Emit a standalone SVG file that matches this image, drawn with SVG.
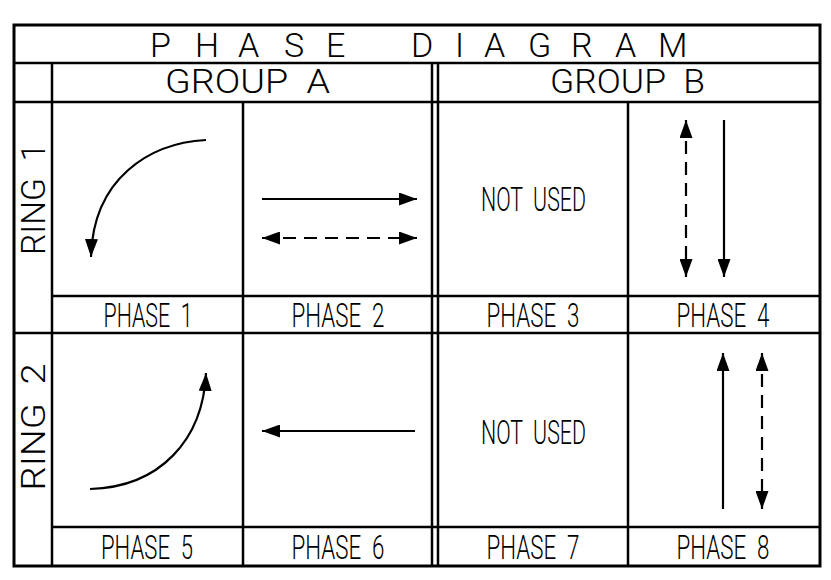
<svg xmlns="http://www.w3.org/2000/svg" width="831" height="580" viewBox="0 0 831 580">
<style>
.grid{stroke:#000;stroke-width:2.5;fill:none}
.t{font-family:Roboto,"Liberation Sans",Arial,sans-serif;font-weight:300;fill:#000}
.big{font-size:34px}
.lbl{font-size:33px;text-anchor:middle}
.arr{stroke:#000;stroke-width:2.2;fill:none}
.dash{stroke-dasharray:13 8}
</style>
<defs>
<marker id="ah" markerUnits="userSpaceOnUse" markerWidth="18" markerHeight="13" refX="18" refY="6.5" orient="auto-start-reverse">
<path d="M0,0 L18,6.5 L0,13 z" fill="#000"/>
</marker>
</defs>
<rect width="831" height="580" fill="#fff"/>
<g id="table">
<rect class="grid" x="14" y="25" width="806" height="541" style="stroke-width:3"/>
<path class="grid" d="M14,63H820M14,102H820M52,296H820M14,333H820M52,527H820M52,63V566M243,102V566M432,63V566M438,63V566M628,102V566"/>
</g>
<g id="title">
<text class="t big" y="57" x="150 175 195 220 238 262 284 307 326 350 411 436 455 470 484 508 528 552 571 596 615 638 658">P H A S E D I A G R A M</text>
</g>
<g id="group-a"><text class="t big" x="247.5" y="93" text-anchor="middle" textLength="165" lengthAdjust="spacingAndGlyphs" xml:space="preserve">GROUP  A</text></g>
<g id="group-b"><text class="t big" x="627.5" y="93" text-anchor="middle" textLength="155" lengthAdjust="spacingAndGlyphs" xml:space="preserve">GROUP  B</text></g>
<g id="ring-1"><text class="t big" transform="translate(45,199) rotate(-90)" text-anchor="middle" textLength="112" lengthAdjust="spacingAndGlyphs" xml:space="preserve">RING  1</text></g>
<g id="ring-2"><text class="t big" transform="translate(45,427) rotate(-90)" text-anchor="middle" textLength="127" lengthAdjust="spacingAndGlyphs" xml:space="preserve">RING  2</text></g>
<g id="phase-1"><text class="t lbl" x="148" y="327" textLength="89" lengthAdjust="spacingAndGlyphs" xml:space="preserve">PHASE  1</text></g>
<g id="phase-2"><text class="t lbl" x="338" y="327" textLength="93" lengthAdjust="spacingAndGlyphs" xml:space="preserve">PHASE  2</text></g>
<g id="phase-3"><text class="t lbl" x="533" y="327" textLength="93" lengthAdjust="spacingAndGlyphs" xml:space="preserve">PHASE  3</text></g>
<g id="phase-4"><text class="t lbl" x="723" y="327" textLength="93" lengthAdjust="spacingAndGlyphs" xml:space="preserve">PHASE  4</text></g>
<g id="phase-5"><text class="t lbl" x="147" y="559" textLength="92" lengthAdjust="spacingAndGlyphs" xml:space="preserve">PHASE  5</text></g>
<g id="phase-6"><text class="t lbl" x="338" y="559" textLength="93" lengthAdjust="spacingAndGlyphs" xml:space="preserve">PHASE  6</text></g>
<g id="phase-7"><text class="t lbl" x="533" y="559" textLength="93" lengthAdjust="spacingAndGlyphs" xml:space="preserve">PHASE  7</text></g>
<g id="phase-8"><text class="t lbl" x="723" y="559" textLength="93" lengthAdjust="spacingAndGlyphs" xml:space="preserve">PHASE  8</text></g>
<g id="not-used-3"><text class="t lbl" x="533.5" y="211" textLength="105" lengthAdjust="spacingAndGlyphs" xml:space="preserve">NOT  USED</text></g>
<g id="not-used-7"><text class="t lbl" x="533.5" y="444" textLength="105" lengthAdjust="spacingAndGlyphs" xml:space="preserve">NOT  USED</text></g>
<g id="connectors">
<path class="arr" d="M206,140 C150,143 93,178 91,257" marker-end="url(#ah)"/>
<path class="arr" d="M262,199 H417" marker-end="url(#ah)"/>
<path class="arr dash" d="M262,238 H417" marker-start="url(#ah)" marker-end="url(#ah)"/>
<path class="arr dash" d="M686,120 V277" marker-start="url(#ah)" marker-end="url(#ah)"/>
<path class="arr" d="M724,120 V277" marker-end="url(#ah)"/>
<path class="arr" d="M90,489 C160,487 203,440 206,373" marker-end="url(#ah)"/>
<path class="arr" d="M415,431 H262" marker-end="url(#ah)"/>
<path class="arr" d="M723,509 V353" marker-end="url(#ah)"/>
<path class="arr dash" d="M762,353 V509" marker-start="url(#ah)" marker-end="url(#ah)"/>
</g>
</svg>
